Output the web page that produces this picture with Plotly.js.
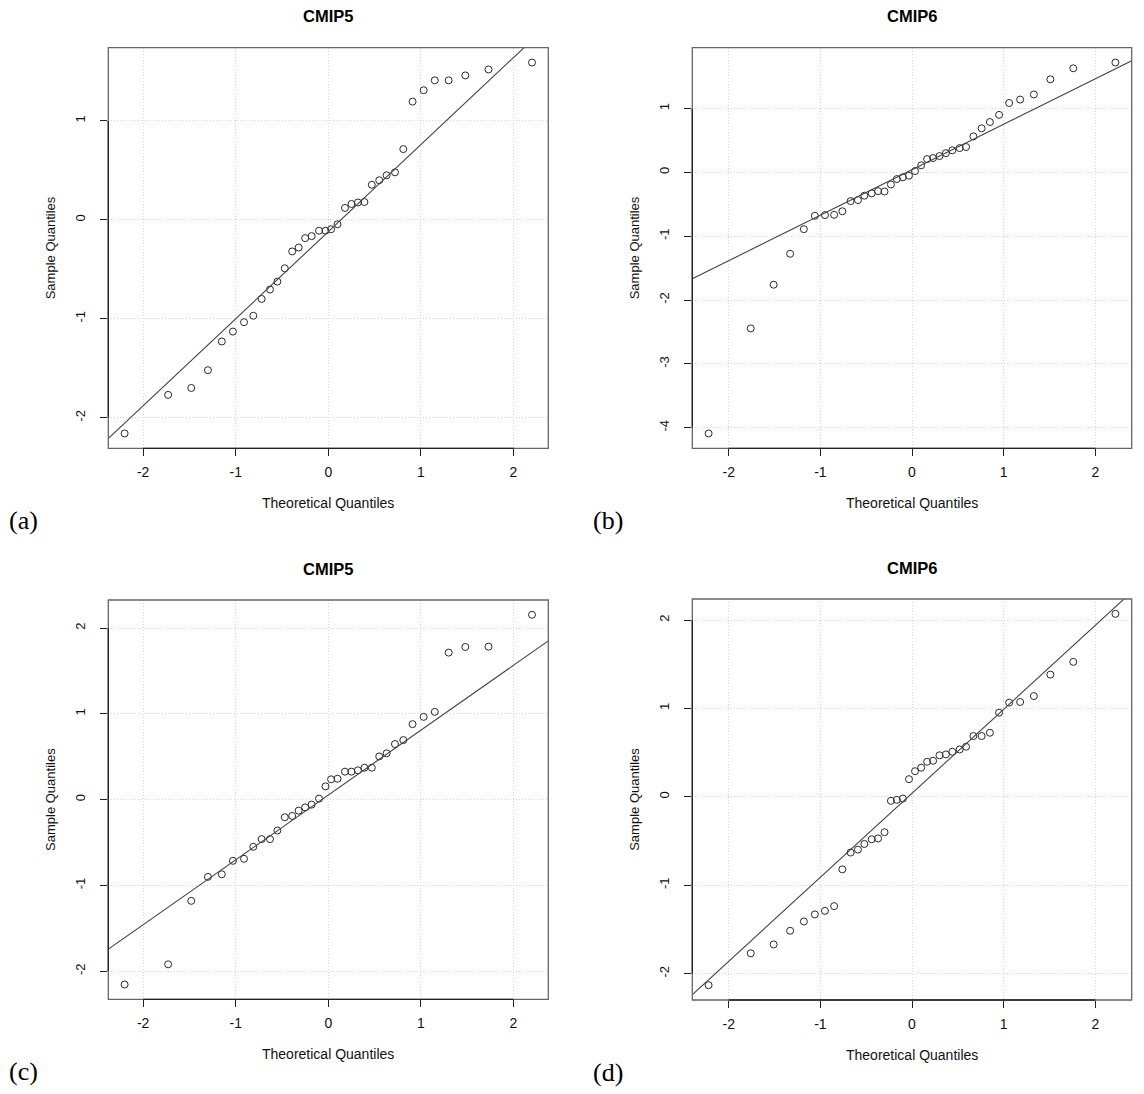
<!DOCTYPE html>
<html>
<head>
<meta charset="utf-8">
<script src="https://cdn.plot.ly/plotly-3.0.1.min.js"></script>
<style>
html,body{margin:0;padding:0;background:#fff;}
#chart{width:1144px;height:1094px;}
</style>
</head>
<body>
<div id="chart"></div>
<script>
// ---- Data ----
const panelTitles = ["CMIP5", "CMIP6", "CMIP5", "CMIP6"];
const panelLabels = ["(a)", "(b)", "(c)", "(d)"];

// Theoretical quantiles (n = 36 for a, c; n = 38 for b, d)
const theoA = [-2.20,-1.73,-1.48,-1.30,-1.15,-1.03,-0.91,-0.81,-0.72,-0.63,-0.55,-0.47,-0.39,-0.32,-0.25,-0.18,-0.10,-0.03,
               0.03,0.10,0.18,0.25,0.32,0.39,0.47,0.55,0.63,0.72,0.81,0.91,1.03,1.15,1.30,1.48,1.73,2.20];
const sampleA = [-2.16,-1.77,-1.70,-1.52,-1.23,-1.13,-1.035,-0.97,-0.80,-0.705,-0.625,-0.49,-0.32,-0.28,-0.185,-0.165,-0.11,-0.11,
                 -0.095,-0.045,0.12,0.16,0.175,0.18,0.354,0.40,0.45,0.48,0.715,1.195,1.31,1.41,1.41,1.46,1.52,1.59];

const theoB = [-2.22,-1.76,-1.51,-1.33,-1.18,-1.06,-0.95,-0.85,-0.76,-0.67,-0.59,-0.52,-0.44,-0.37,-0.30,-0.23,-0.165,-0.10,-0.033,
               0.033,0.10,0.165,0.23,0.30,0.37,0.44,0.52,0.59,0.67,0.76,0.85,0.95,1.06,1.18,1.33,1.51,1.76,2.22];
const sampleB = [-4.09,-2.445,-1.76,-1.275,-0.89,-0.68,-0.67,-0.665,-0.61,-0.45,-0.434,-0.366,-0.33,-0.295,-0.30,-0.19,-0.105,-0.078,-0.053,
                 0.02,0.11,0.208,0.224,0.255,0.30,0.345,0.38,0.397,0.564,0.69,0.788,0.90,1.086,1.14,1.22,1.457,1.63,1.72];

const theoC = theoA.slice();
const sampleC = [-2.155,-1.92,-1.18,-0.90,-0.87,-0.713,-0.69,-0.55,-0.46,-0.46,-0.36,-0.205,-0.19,-0.128,-0.09,-0.058,0.012,0.155,
                 0.237,0.244,0.326,0.326,0.342,0.372,0.372,0.504,0.54,0.648,0.694,0.88,0.965,1.023,1.714,1.78,1.783,2.155];

const theoD = theoB.slice();
const sampleD = [-2.13,-1.77,-1.67,-1.515,-1.41,-1.33,-1.29,-1.236,-0.82,-0.63,-0.597,-0.533,-0.48,-0.47,-0.40,-0.045,-0.034,-0.019,0.20,
                 0.29,0.33,0.397,0.408,0.47,0.48,0.51,0.536,0.567,0.688,0.688,0.725,0.952,1.066,1.073,1.14,1.383,1.527,2.07];

// Reference (qqline) lines: intercept and slope per panel
const lineIntercept = [-0.12, 0.04, 0.054, 0.04];
const lineSlope     = [0.88, 0.712, 0.756, 0.95];

// Tick values
const xTicks = [-2, -1, 0, 1, 2];
const yTicksA = [-2, -1, 0, 1];
const yTicksB = [-4, -3, -2, -1, 0, 1];
const yTicksC = [-2, -1, 0, 1, 2];
const yTicksD = [-2, -1, 0, 1, 2];

// ---- Build ----
const W = 1144, H = 1094;
const panels = [
  {x: theoA, y: sampleA, yt: yTicksA, px: [108.3, 548.3], py: [47.7, 448.3]},
  {x: theoB, y: sampleB, yt: yTicksB, px: [692.3, 1131.7], py: [47.7, 448.3]},
  {x: theoC, y: sampleC, yt: yTicksC, px: [108.3, 548.3], py: [600, 999.3]},
  {x: theoD, y: sampleD, yt: yTicksD, px: [692.3, 1131.7], py: [599, 1000]}
];

function extRange(arr) {
  const mn = Math.min(...arr), mx = Math.max(...arr);
  const d = (mx - mn) * 0.04;
  return [mn - d, mx + d];
}

const traces = [];
const layout = {
  width: W, height: H,
  margin: {l: 0, r: 0, t: 0, b: 0},
  paper_bgcolor: '#ffffff',
  plot_bgcolor: '#ffffff',
  showlegend: false,
  font: {family: 'Liberation Sans, Arial, sans-serif', color: '#000'},
  shapes: [],
  annotations: []
};

panels.forEach((p, i) => {
  const sfx = i === 0 ? '' : String(i + 1);
  const xa = 'x' + sfx, ya = 'y' + sfx;
  const xr = extRange(p.x), yr = extRange(p.y);

  traces.push({
    type: 'scatter', mode: 'markers', x: p.x, y: p.y,
    xaxis: xa, yaxis: ya,
    marker: {symbol: 'circle-open', size: 7, color: '#2a2a2a', line: {width: 1, color: '#2a2a2a'}},
    hoverinfo: 'x+y'
  });
  const lx = [xr[0] - 1, xr[1] + 1];
  traces.push({
    type: 'scatter', mode: 'lines', x: lx,
    y: lx.map(v => lineIntercept[i] + lineSlope[i] * v),
    xaxis: xa, yaxis: ya,
    line: {color: '#444', width: 1.1},
    hoverinfo: 'skip'
  });

  layout['xaxis' + sfx] = {
    domain: [p.px[0] / W, p.px[1] / W],
    anchor: ya, range: xr,
    tickvals: xTicks, ticktext: xTicks.map(String),
    ticks: 'outside', ticklen: 7, tickcolor: '#222', tickwidth: 1,
    ticklabelstandoff: 4,
    tickfont: {size: 14, color: '#111'},
    showgrid: true, gridcolor: '#d6d6d6', griddash: '1px,2px', gridwidth: 1,
    zeroline: false, showline: false, fixedrange: true
  };
  layout['yaxis' + sfx] = {
    domain: [1 - p.py[1] / H, 1 - p.py[0] / H],
    anchor: xa, range: yr,
    tickvals: p.yt, ticktext: p.yt.map(String),
    ticks: 'outside', ticklen: 7, tickcolor: '#222', tickwidth: 1,
    tickangle: -90, ticklabelstandoff: 10,
    tickfont: {size: 13, color: '#111'},
    showgrid: true, gridcolor: '#d6d6d6', griddash: '1px,2px', gridwidth: 1,
    zeroline: false, showline: false, fixedrange: true
  };

  // box
  layout.shapes.push({type: 'rect', xref: xa + ' domain', yref: ya + ' domain',
    x0: 0, x1: 1, y0: 0, y1: 1, line: {color: '#666', width: 1.3}, layer: 'above'});
  // axis lines between extreme ticks (R style)
  layout.shapes.push({type: 'line', xref: xa, yref: ya + ' domain',
    x0: xTicks[0], x1: xTicks[xTicks.length - 1], y0: 0, y1: 0,
    line: {color: '#222', width: 1.3}, layer: 'above'});
  layout.shapes.push({type: 'line', xref: xa + ' domain', yref: ya,
    x0: 0, x1: 0, y0: p.yt[0], y1: p.yt[p.yt.length - 1],
    line: {color: '#222', width: 1.3}, layer: 'above'});

  const cx = (p.px[0] + p.px[1]) / 2;
  // panel title
  layout.annotations.push({xref: 'paper', yref: 'paper', x: cx / W, y: 1 - (p.py[0] - 31.5) / H,
    text: '<b>' + panelTitles[i] + '</b>', showarrow: false, xanchor: 'center', yanchor: 'middle',
    font: {size: 16.5, color: '#000', family: 'Liberation Sans, Arial, sans-serif'}});
  // x title
  layout.annotations.push({xref: 'paper', yref: 'paper', x: cx / W, y: 1 - (p.py[1] + 54.5) / H,
    text: 'Theoretical Quantiles', showarrow: false, xanchor: 'center', yanchor: 'middle',
    font: {size: 14, color: '#111'}});
  // y title
  layout.annotations.push({xref: 'paper', yref: 'paper', x: (p.px[0] - 58) / W,
    y: 1 - ((p.py[0] + p.py[1]) / 2) / H,
    text: 'Sample Quantiles', showarrow: false, textangle: -90, xanchor: 'center', yanchor: 'middle',
    font: {size: 13, color: '#111'}});
  // panel label
  layout.annotations.push({xref: 'paper', yref: 'paper', x: (p.px[0] - 101) / W,
    y: 1 - (p.py[1] + 72.5) / H,
    text: panelLabels[i], showarrow: false, xanchor: 'left', yanchor: 'middle',
    font: {size: 26, color: '#000', family: 'Liberation Serif, Times New Roman, serif'}});
});

Plotly.newPlot('chart', traces, layout, {displayModeBar: false, staticPlot: true});
</script>
</body>
</html>
